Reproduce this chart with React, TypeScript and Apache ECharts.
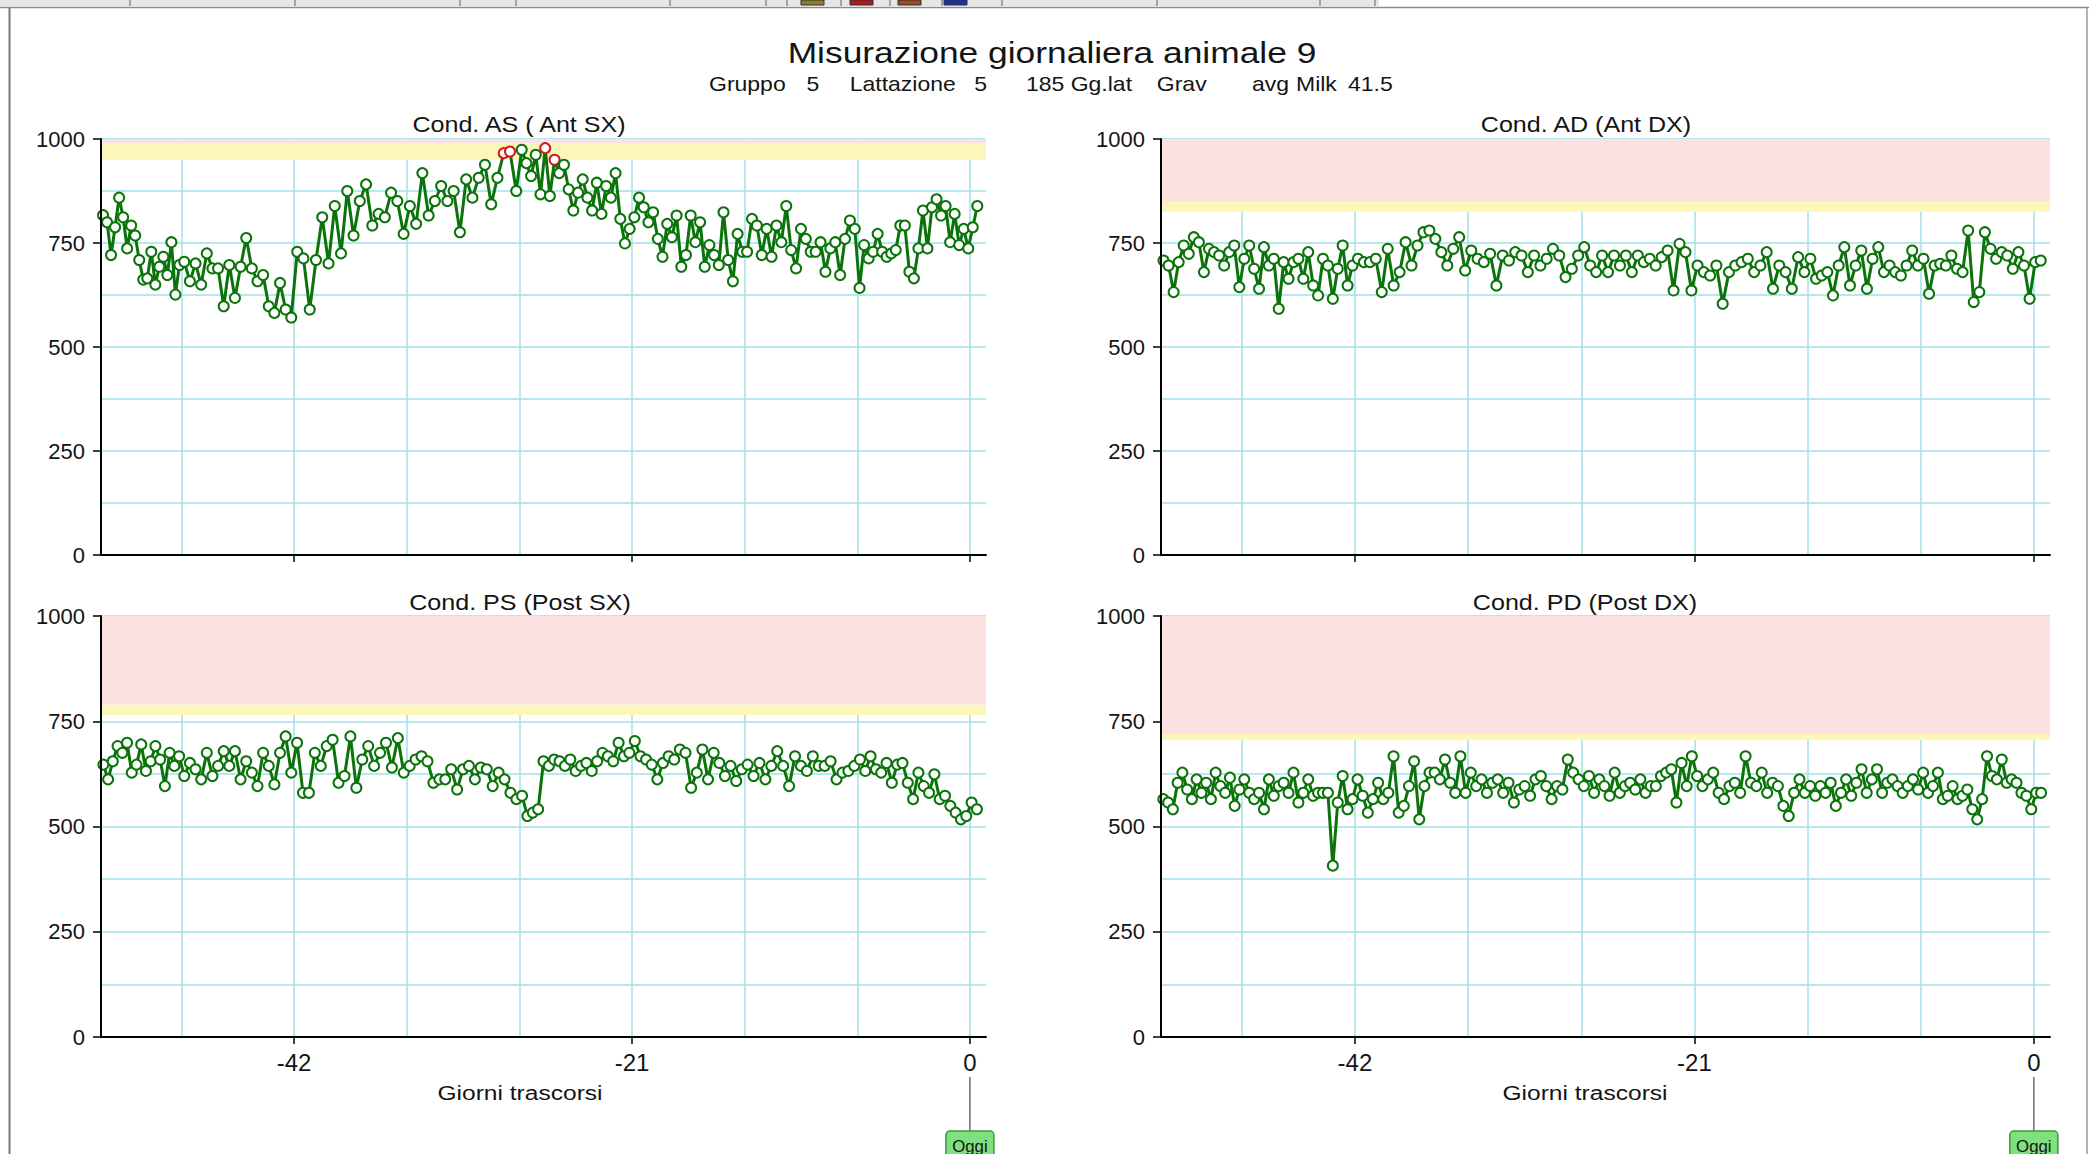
import React, { useEffect, useRef } from 'react';
import * as echarts from 'echarts';

// ---------------- DATA ----------------
const TITLE = 'Misurazione giornaliera animale 9';
const SUBTITLE_PARTS = ['Gruppo', '5', 'Lattazione', '5', '185', 'Gg.lat', 'Grav', 'avg', 'Milk', '41.5'];
const PANEL_TITLES = ['Cond. AS ( Ant SX)', 'Cond. AD (Ant DX)', 'Cond. PS (Post SX)', 'Cond. PD (Post DX)'];
const X_AXIS_NAME = 'Giorni trascorsi';
const TODAY_LABEL = 'Oggi';

const X_MIN = -54;
const X_MAX = 1;
const X_LABELS = [-42, -21, 0];
const X_GRID = [-49, -42, -35, -28, -21, -14, -7, 0];
const Y_MIN = 0;
const Y_MAX = 1000;
const Y_LABELS = [0, 250, 500, 750, 1000];
const Y_GRID_STEP = 125;

// week blocks (days) the samples fall in
const WEEK_EDGES = [-54, -49, -42, -35, -28, -21, -14, -7, 0.6];

// Cond. AS (Ant SX) – samples per week block
const AS_BLOCKS = [
  [817, 800, 721, 788, 859, 812, 737, 792, 768, 709, 662, 665, 729, 650, 693, 717, 673, 752, 626, 697],
  [705, 658, 701, 650, 725, 689, 689, 598, 697, 618, 693, 762, 689, 658, 673, 598, 582, 654, 590, 571],
  [729, 713, 590, 709, 812, 701, 839, 725, 875, 768, 851, 891, 792, 820, 812, 871, 851, 772],
  [839, 796, 918, 816, 851, 887, 851, 875, 776, 903, 859, 907, 938, 843, 907, 966, 970, 875],
  [974, 942, 911, 962, 867, 978, 863, 950, 918, 938, 879, 828, 871, 903, 859, 828, 895, 820, 887, 859, 918, 808, 749, 784],
  [812, 859, 836, 800, 824, 760, 717, 796, 764, 816, 693, 721, 816, 752, 800, 693, 745, 721, 697, 824, 709, 658, 772, 729],
  [729, 808, 792, 721, 784, 717, 792, 752, 839, 733, 689, 784, 760, 729, 729, 752, 681, 737, 752, 673, 760, 804, 784],
  [642, 745, 713, 729, 772, 729, 717, 725, 733, 792, 792, 681, 665, 737, 828, 737, 836, 855, 816, 839, 752, 820, 745, 784, 737, 788, 839],
];
const AS_ALERTS = [73, 74, 81, 83]; // samples drawn red

// Cond. AD (Ant DX)
const AD_BLOCKS = [
  [708, 696, 632, 704, 744, 724, 764, 752, 680, 736, 728, 720, 696, 728, 744, 644],
  [712, 744, 688, 640, 740, 696, 712, 592, 704, 664, 704, 712, 664, 728, 648, 624, 712, 696, 616, 688, 744, 648, 696],
  [712, 704, 704, 712, 632, 736, 648, 680, 752, 696, 744, 776, 780, 760, 728, 696, 736, 764, 684],
  [732, 712, 704, 724, 648, 720, 708, 728, 720, 680, 720, 696, 712, 736, 720, 668, 688, 720],
  [740, 696, 680, 720, 680, 720, 696, 720, 680, 720, 704, 712, 696, 716, 732, 636, 748, 728, 636],
  [696, 680, 672, 696, 604, 680, 696, 704, 712, 680, 696, 728, 640, 696, 680, 640, 716, 680],
  [712, 664, 672, 680, 624, 696, 740, 648, 696, 732, 640, 712, 740, 680, 696, 680, 672, 696, 732, 696],
  [712, 628, 696, 700, 696, 720, 688, 680, 780, 608, 632, 776, 736, 712, 728, 720, 688, 728, 696, 616, 704, 708],
];

// Cond. PS (Post SX)
const PS_BLOCKS = [
  [647, 612, 655, 691, 675, 699, 628, 647, 695, 632, 655, 691, 659, 596, 675, 644, 667],
  [620, 651, 636, 612, 675, 620, 644, 679, 644, 679, 612, 655, 628, 596, 675, 644, 600, 675, 714, 628],
  [699, 580, 580, 675, 644, 691, 706, 604, 620, 714, 592, 659, 691, 644, 675, 699, 640, 710, 628],
  [644, 659, 667, 655, 604, 612, 612, 636, 588, 636, 644, 612, 640, 636, 596, 628, 612, 580, 565],
  [573, 525, 533, 541, 655, 644, 659, 655, 644, 659, 632, 644, 651, 632, 655, 675, 667, 655, 699, 667, 675],
  [703, 667, 659, 647, 612, 651, 667, 659, 683, 675, 592, 628, 683, 612, 675, 651, 620, 644, 608, 636],
  [647, 620, 651, 612, 644, 679, 644, 596, 667, 644, 632, 667, 644, 644, 655, 612, 628, 632, 644],
  [659, 632, 667, 636, 628, 651, 604, 647, 651, 604, 565, 628, 596, 580, 624, 565, 573, 549, 533, 517, 525, 557, 541],
];

// Cond. PD (Post DX)
const PD_BLOCKS = [
  [565, 557, 541, 604, 628, 588, 565, 612, 580, 604, 565, 628, 596, 580, 616, 549, 588],
  [612, 580, 565, 580, 541, 612, 573, 596, 604, 580, 628, 557, 580, 612, 573, 580, 580, 580, 407, 557, 620, 541, 565],
  [612, 573, 533, 565, 604, 565, 580, 667, 533, 549, 596, 655, 517, 596, 628, 628, 612, 659, 604, 580, 667, 580],
  [628, 596, 612, 580, 604, 612, 580, 604, 557, 588, 596, 573, 612, 620, 596, 565, 596, 588, 659, 628, 612],
  [596, 620, 580, 612, 596, 573, 628, 580, 596, 604, 588, 612, 580, 596, 596, 620, 628, 636, 557, 651, 596, 667],
  [620, 596, 612, 628, 580, 565, 596, 604, 580, 667, 604, 596, 628, 580, 604, 596, 549, 525, 580, 612, 580],
  [596, 573, 596, 580, 604, 549, 580, 612, 573, 604, 636, 580, 612, 636, 580, 604, 612, 596, 580, 596, 612, 588],
  [628, 580, 596, 628, 565, 573, 596, 565, 573, 588, 541, 517, 565, 667, 620, 612, 659, 604, 612, 604, 580, 573, 541, 580, 580],
];

// alarm bands [yellow from, red from] (red goes up to Y_MAX)
const AS_BANDS = [950, 990];
const AD_BANDS = [825, 850];
const PS_BANDS = [765, 790];
const PD_BANDS = [705, 720];

// ---------------- STYLE ----------------
const FONT = '"Liberation Sans", Arial, Helvetica, sans-serif';
const GREEN = '#0a730a';
const RED = '#d41a1a';
const PINK = '#fde0e0';
const YELLOW = '#fcf6bb';
const GRID_COLOR = '#9fe0ea';
const TEXT = '#141414';

function placeInBlocks(blocks: number[][], edges: number[]): [number, number][] {
  const out: [number, number][] = [];
  blocks.forEach((vals, b) => {
    const a = edges[b];
    const z = edges[b + 1];
    const step = (z - a) / vals.length;
    vals.forEach((v, i) => out.push([a + (i + 0.5) * step, v]));
  });
  return out;
}

const PANELS = [
  { rect: { left: 101, top: 139, width: 885, height: 416 }, blocks: AS_BLOCKS, bands: AS_BANDS, alerts: AS_ALERTS, showXLabels: false },
  { rect: { left: 1161, top: 139, width: 889, height: 416 }, blocks: AD_BLOCKS, bands: AD_BANDS, alerts: [] as number[], showXLabels: false },
  { rect: { left: 101, top: 616, width: 885, height: 421 }, blocks: PS_BLOCKS, bands: PS_BANDS, alerts: [] as number[], showXLabels: true },
  { rect: { left: 1161, top: 616, width: 889, height: 421 }, blocks: PD_BLOCKS, bands: PD_BANDS, alerts: [] as number[], showXLabels: true },
];

function text(x: number, y: number, str: string, size: number, align: string, scaleX: number, extra: any = {}) {
  return {
    type: 'text',
    x,
    y,
    scaleX,
    z: 10,
    silent: true,
    style: {
      text: str,
      fontSize: size,
      fontFamily: FONT,
      fill: TEXT,
      textAlign: align,
      textVerticalAlign: 'middle',
      ...extra,
    },
  };
}

function buildGraphics(todayL: number, todayR: number) {
  const g: any[] = [];
  // toolbar strip at the very top
  g.push({ type: 'rect', shape: { x: 0, y: 0, width: 1379, height: 6 }, style: { fill: '#e6e6e6' }, silent: true });
  [130, 295, 460, 516, 670, 766, 787, 841, 890, 942, 1002, 1157, 1320, 1375].forEach((x) => {
    g.push({ type: 'line', shape: { x1: x, y1: 0, x2: x, y2: 6 }, style: { stroke: '#8c8c8c', lineWidth: 1.5 }, silent: true });
  });
  [[801, '#8b7d2c'], [850, '#b8141c'], [898, '#9c4a22'], [944, '#1c2fa6']].forEach(([x, c]) => {
    g.push({ type: 'rect', shape: { x: x as number, y: 0, width: 23, height: 5 }, style: { fill: c as string, stroke: '#333', lineWidth: 1 }, silent: true });
  });
  // frame
  g.push({ type: 'line', shape: { x1: 0, y1: 7.5, x2: 2089, y2: 7.5 }, style: { stroke: '#8a8a8a', lineWidth: 1.5 }, silent: true });
  g.push({ type: 'line', shape: { x1: 9.5, y1: 7.5, x2: 9.5, y2: 1154 }, style: { stroke: '#7a7a7a', lineWidth: 2 }, silent: true });
  g.push({ type: 'line', shape: { x1: 2087, y1: 7.5, x2: 2087, y2: 1154 }, style: { stroke: '#9a9a9a', lineWidth: 1.5 }, silent: true });

  // titles
  g.push(text(1052, 53.5, TITLE, 29, 'center', 1.22));
  const subX = [709, 806.6, 849.7, 974.3, 1026, 1070.7, 1156.8, 1252, 1296, 1348];
  SUBTITLE_PARTS.forEach((s, i) => g.push(text(subX[i], 84.1, s, 20, 'left', 1.15)));

  const panelTitlePos = [[519, 124.7], [1586, 124.7], [520, 602.6], [1585, 602.6]];
  PANEL_TITLES.forEach((t, i) => g.push(text(panelTitlePos[i][0], panelTitlePos[i][1], t, 22, 'center', 1.14)));

  g.push(text(520, 1092.7, X_AXIS_NAME, 21, 'center', 1.17));
  g.push(text(1585, 1092.7, X_AXIS_NAME, 21, 'center', 1.17));

  // "Oggi" markers at day 0
  [todayL, todayR].forEach((px) => {
    g.push({ type: 'line', shape: { x1: px, y1: 1077, x2: px, y2: 1131 }, style: { stroke: '#6e6e6e', lineWidth: 1.5 }, silent: true });
    g.push({ type: 'rect', shape: { x: px - 24, y: 1131, width: 48, height: 32, r: 4 }, style: { fill: '#7ee07e', stroke: '#3b9a3b', lineWidth: 1.5 }, silent: true });
    g.push(text(px, 1146, TODAY_LABEL, 16, 'center', 1.05));
  });
  return g;
}

export default function App() {
  const ref = useRef<HTMLDivElement>(null);

  useEffect(() => {
    if (!ref.current) return;
    const chart = echarts.init(ref.current, null, { renderer: 'svg' });

    const grid: any[] = [];
    const xAxis: any[] = [];
    const yAxis: any[] = [];
    const series: any[] = [];

    PANELS.forEach((p, gi) => {
      grid.push({ ...p.rect, containLabel: false });
      // main x axis (ticks & labels)
      xAxis.push({
        type: 'value', gridIndex: gi, min: X_MIN, max: X_MAX, position: 'bottom', z: 3,
        axisLine: { show: true, onZero: false, lineStyle: { color: '#000', width: 2 } },
        axisTick: { show: true, length: 7, customValues: X_LABELS, lineStyle: { color: '#000', width: 1.5 } },
        axisLabel: { show: p.showXLabels, customValues: X_LABELS, fontSize: 24, fontFamily: FONT, color: TEXT, margin: 13 },
        splitLine: { show: false },
      });
      // weekly grid lines
      xAxis.push({
        type: 'value', gridIndex: gi, min: X_MIN, max: X_MAX, position: 'top', z: 1,
        axisLine: { show: false }, axisLabel: { show: false },
        axisTick: { show: false, customValues: X_GRID },
        splitLine: { show: true, lineStyle: { color: GRID_COLOR, width: 1.5 } },
      });
      yAxis.push({
        type: 'value', gridIndex: gi, min: Y_MIN, max: Y_MAX, position: 'left', z: 3,
        axisLine: { show: true, onZero: false, lineStyle: { color: '#000', width: 2 } },
        axisTick: { show: true, length: 8, customValues: Y_LABELS, lineStyle: { color: '#000', width: 1.5 } },
        axisLabel: {
          customValues: Y_LABELS, fontSize: 22, fontFamily: FONT, color: TEXT, margin: 16,
          formatter: (v: number) => String(v),
        },
        splitLine: { show: false },
      });
      yAxis.push({
        type: 'value', gridIndex: gi, min: Y_MIN, max: Y_MAX, interval: Y_GRID_STEP, position: 'right', z: 1,
        axisLine: { show: false }, axisLabel: { show: false }, axisTick: { show: false },
        splitLine: { show: true, lineStyle: { color: GRID_COLOR, width: 1.5 } },
      });

      // alarm bands
      series.push({
        type: 'line', xAxisIndex: gi * 2, yAxisIndex: gi * 2, data: [], z: 0, silent: true,
        markArea: {
          silent: true,
          data: [
            [{ yAxis: p.bands[0], itemStyle: { color: YELLOW } }, { yAxis: p.bands[1] }],
            [{ yAxis: p.bands[1], itemStyle: { color: PINK } }, { yAxis: Y_MAX }],
          ],
        },
      });

      const pts = placeInBlocks(p.blocks, WEEK_EDGES);
      const data = pts.map((pt, i) =>
        p.alerts.includes(i) ? { value: pt, itemStyle: { color: RED, borderColor: RED } } : pt,
      );
      series.push({
        type: 'line', xAxisIndex: gi * 2, yAxisIndex: gi * 2, data, z: 2, silent: true,
        symbol: 'emptyCircle', symbolSize: 10, showAllSymbol: true,
        lineStyle: { color: GREEN, width: 3 },
        itemStyle: { color: GREEN, borderWidth: 3 },
      });
    });

    chart.setOption({
      animation: false,
      backgroundColor: '#ffffff',
      grid, xAxis, yAxis, series,
    });

    const todayL = chart.convertToPixel({ xAxisIndex: 4 }, 0) as unknown as number;
    const todayR = chart.convertToPixel({ xAxisIndex: 6 }, 0) as unknown as number;
    chart.setOption({ graphic: buildGraphics(todayL, todayR) });

    return () => chart.dispose();
  }, []);

  return (
    <div
      ref={ref}
      style={{ position: 'absolute', left: 0, top: 0, width: 2089, height: 1154, background: '#fff' }}
    />
  );
}
